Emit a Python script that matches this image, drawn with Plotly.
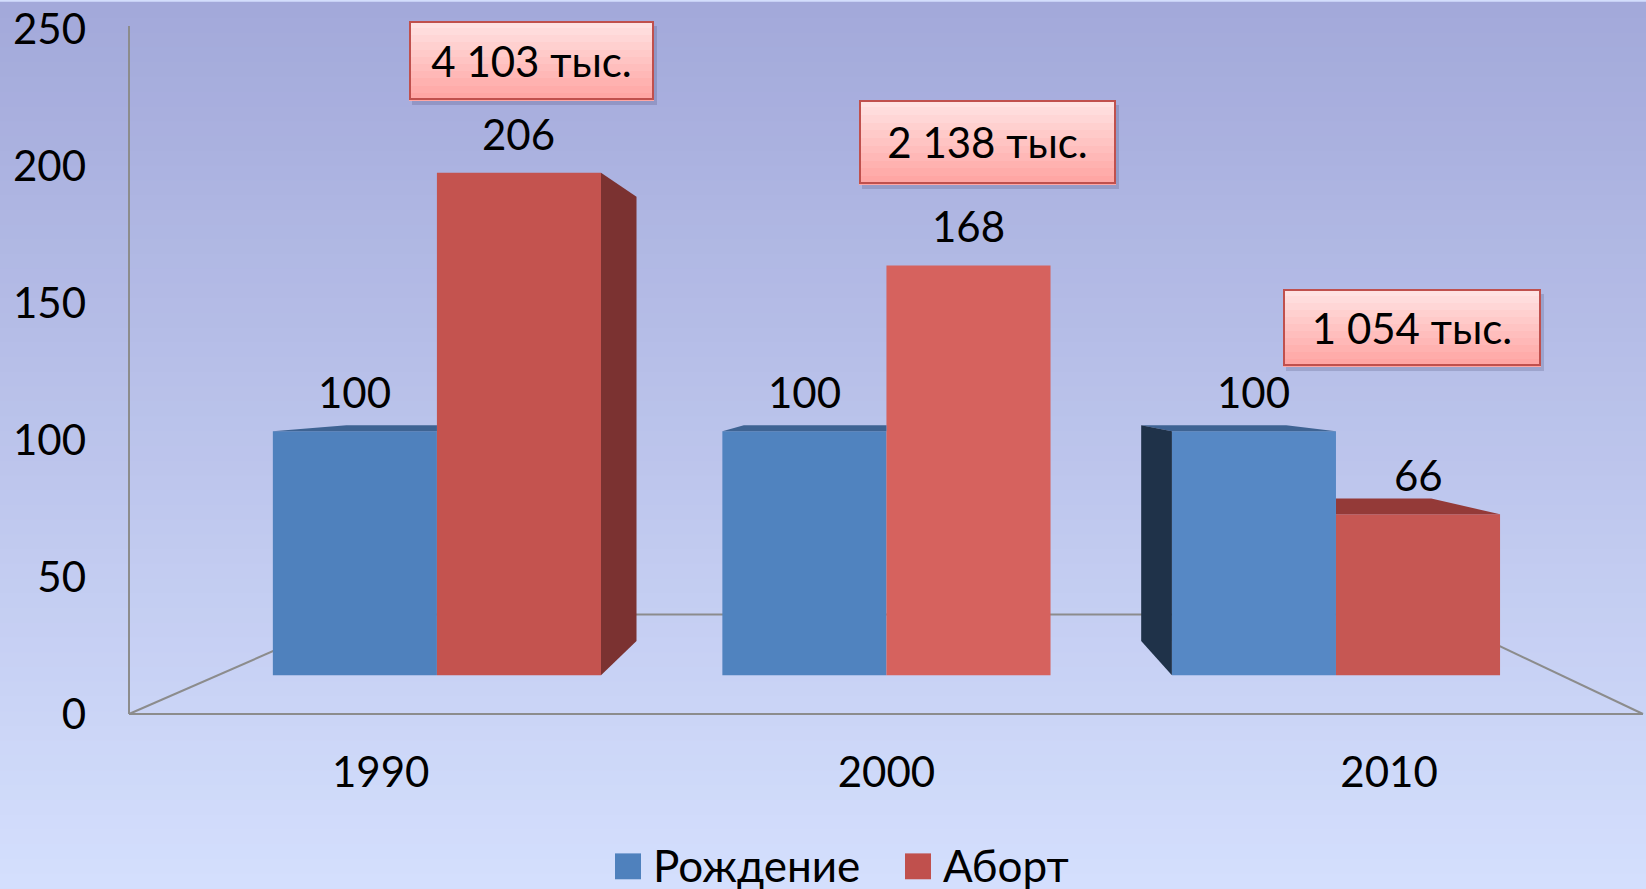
import plotly.graph_objects as go

# ---------------- data ----------------
years = ["1990", "2000", "2010"]
births = [100, 100, 100]          # Рождение (index)
abortions = [206, 168, 66]        # Аборт (index)
abs_labels = ["4 103 тыс.", "2 138 тыс.", "1 054 тыс."]
series_names = ["Рождение", "Аборт"]
y_ticks = [0, 50, 100, 150, 200, 250]

# ---------------- style ----------------
BLUE = "#4F81BD"
RED = "#C0504D"
BLUE_BARS = ["#4F81BD", "#5083BF", "#5688C5"]
RED_BARS = ["#C4534F", "#D6625E", "#C65753"]
SIDE = {"blue": "#1F3249", "red": "#7B3231"}
TOP = {"blue": "#3E6393", "red": "#943A38"}
FONT = "Lato, 'Open Sans', 'DejaVu Sans', sans-serif"
W, H = 1646, 889
ML, MR, MT, MB = 129, 3, 26, 175
PW, PH = W - ML - MR, H - MT - MB

BAR_W = 0.365          # width of one bar in category units (bargap 0.27)
VX, VY, S = 1.046, 121.2, 0.884   # perspective vanishing point (x units, y2 units) and depth scale

xs = list(range(len(years)))

fig = go.Figure()

# background gradient bands (paper coords covering the whole page)
top_c = (163, 169, 218)
bot_c = (212, 223, 253)
nb = 60
y_lo = -MB / PH
y_hi = 1 + MT / PH
x_lo = -ML / PW
x_hi = 1 + MR / PW
shapes = []
for i in range(nb):
    t = i / (nb - 1)
    c = tuple(round(bot_c[k] + (top_c[k] - bot_c[k]) * t) for k in range(3))
    y0 = y_lo + (y_hi - y_lo) * i / nb
    y1 = y_lo + (y_hi - y_lo) * (i + 1) / nb + 0.002
    shapes.append(dict(type="rect", xref="paper", yref="paper", x0=x_lo, x1=x_hi,
                       y0=y0, y1=y1, fillcolor="rgb(%d,%d,%d)" % c,
                       line=dict(width=0), layer="below"))


def px2paper(xp, yp):
    return (xp - ML) / PW, (H - MB - yp) / PH


# perspective floor + vertical axis line
GRAY = "#8C8C8C"
floor_pts = [((129, 714), (1643, 714)),
             ((129, 714), (357, 614)),
             ((357, 614), (1433, 614)),
             ((1433, 614), (1643, 714)),
             ((129, 714), (129, 23))]
for (a, b) in floor_pts:
    ax0, ay0 = px2paper(*a)
    ax1, ay1 = px2paper(*b)
    shapes.append(dict(type="line", xref="paper", yref="paper", x0=ax0, y0=ay0,
                       x1=ax1, y1=ay1, line=dict(color=GRAY, width=2), layer="below"))

# front faces of the bars (on hidden perspective axis y2)
fig.add_trace(go.Bar(x=xs, y=births, name=series_names[0],
                     marker=dict(color=BLUE_BARS, line=dict(width=0)), yaxis="y2"))
fig.add_trace(go.Bar(x=xs, y=abortions, name=series_names[1],
                     marker=dict(color=RED_BARS, line=dict(width=0)), yaxis="y2"))


# ---- pseudo-3D side / top faces derived from the bar values ----
def back(p):
    return (VX + S * (p[0] - VX), VY + S * (p[1] - VY))


def clip(poly, axis, val, keep_ge):
    out = []
    n = len(poly)
    for k in range(n):
        a, b = poly[k], poly[(k + 1) % n]
        ina = (a[axis] >= val) if keep_ge else (a[axis] <= val)
        inb = (b[axis] >= val) if keep_ge else (b[axis] <= val)
        if ina:
            out.append(a)
        if ina != inb:
            t = (val - a[axis]) / (b[axis] - a[axis])
            out.append((a[0] + t * (b[0] - a[0]), a[1] + t * (b[1] - a[1])))
    return out


def add_poly(poly, color):
    if len(poly) < 3:
        return
    px = [p[0] for p in poly] + [poly[0][0]]
    py = [p[1] for p in poly] + [poly[0][1]]
    fig.add_trace(go.Scatter(x=px, y=py, yaxis="y2", mode="lines", fill="toself",
                             fillcolor=color, line=dict(width=0), hoverinfo="skip",
                             showlegend=False))


for i in xs:
    group = [("blue", births[i], i - BAR_W, i), ("red", abortions[i], i, i + BAR_W)]
    for j, (key, v, x0, x1) in enumerate(group):
        left_n = group[j - 1][1] if j > 0 else None
        right_n = group[j + 1][1] if j < len(group) - 1 else None
        # top face
        if v < VY:
            poly = [(x0, v), (x1, v), back((x1, v)), back((x0, v))]
            if right_n is not None and right_n >= v:
                poly = clip(poly, 0, x1, False)
            if left_n is not None and left_n >= v:
                poly = clip(poly, 0, x0, True)
            add_poly(poly, TOP[key])
        # right face
        if x1 < VX:
            poly = [(x1, v), back((x1, v)), back((x1, 0)), (x1, 0)]
            if right_n is not None:
                poly = clip(poly, 1, right_n, True) if right_n < v else []
            add_poly(poly, SIDE[key])
        # left face
        if x0 > VX:
            poly = [(x0, v), back((x0, v)), back((x0, 0)), (x0, 0)]
            if left_n is not None:
                poly = clip(poly, 1, left_n, True) if left_n < v else []
            add_poly(poly, SIDE[key])

annotations = []
# value labels
off = BAR_W / 2
for i in xs:
    for dx, v in ((-off, births[i]), (off, abortions[i])):
        annotations.append(dict(x=i + dx, y=v, xref="x", yref="y2", text=str(v),
                                showarrow=False, yanchor="middle", yshift=39,
                                font=dict(family=FONT, size=42, color="#000")))

# callout boxes with absolute numbers (vertical pink gradient)
box_pos = [(0.21, 238.4), (1.225, 208.6), (2.17, 141.0)]
box_size = [(245, 79), (257, 84), (258, 77)]
g_top = (255, 226, 226)
g_bot = (255, 166, 164)
ng = 11
for (bx, by), (BW, BH), txt in zip(box_pos, box_size, abs_labels):
    annotations.append(dict(x=bx, y=by, xref="x", yref="y", text="", showarrow=False,
                            width=BW, height=BH, bgcolor="rgba(70,70,110,0.22)",
                            xshift=3, yshift=-5, borderwidth=0, borderpad=0))
    for k in range(ng):
        t = k / (ng - 1)
        c = tuple(round(g_top[m] + (g_bot[m] - g_top[m]) * t) for m in range(3))
        sh = BH / ng
        annotations.append(dict(x=bx, y=by, xref="x", yref="y", text="", showarrow=False,
                                width=BW, height=sh + 1, bgcolor="rgb(%d,%d,%d)" % c,
                                borderwidth=0, borderpad=0,
                                yshift=BH / 2 - sh / 2 - k * sh))
    annotations.append(dict(x=bx, y=by, xref="x", yref="y", text=txt, showarrow=False,
                            width=BW - 4, height=BH - 4, bgcolor="rgba(0,0,0,0)",
                            bordercolor=RED, borderwidth=2, borderpad=0,
                            align="center", valign="middle",
                            font=dict(family=FONT, size=42, color="#000")))

# custom legend
leg = [(615, BLUE, series_names[0]), (905, RED, series_names[1])]
for xp, col, name in leg:
    sx0, sy0 = px2paper(xp, 880)
    sx1, sy1 = px2paper(xp + 26, 854)
    shapes.append(dict(type="rect", xref="paper", yref="paper", x0=sx0, x1=sx1, y0=sy0, y1=sy1,
                       fillcolor=col, line=dict(width=0)))
    tx, ty = px2paper(xp + 36, 866)
    annotations.append(dict(x=tx, y=ty, xref="paper", yref="paper", text=name, showarrow=False,
                            xanchor="left", yanchor="middle",
                            font=dict(family=FONT, size=44, color="#000")))

fig.update_layout(
    width=W, height=H,
    margin=dict(l=ML, r=MR, t=MT, b=MB),
    paper_bgcolor="#D3DEFC",
    plot_bgcolor="rgba(0,0,0,0)",
    barmode="group", bargap=0.27, bargroupgap=0,
    showlegend=False,
    shapes=shapes,
    annotations=annotations,
    xaxis=dict(range=[-0.685, 2.683], tickvals=[-0.125, 1.0, 2.118], ticktext=years,
               showgrid=False, zeroline=False, showline=False, ticks="",
               tickfont=dict(family=FONT, size=42, color="#000"), ticklabelstandoff=30,
               ticklabeloverflow="allow"),
    yaxis=dict(range=[0, 250], tickvals=y_ticks, showgrid=False, zeroline=False,
               showline=False, ticks="", tickfont=dict(family=FONT, size=42, color="#000"),
               ticklabelstandoff=42, ticklabeloverflow="allow"),
    yaxis2=dict(range=[-15.9, 264.9], overlaying="y", visible=False),
)

fig.write_html("out.html", config={"displayModeBar": False},
               post_script="document.body.style.margin='0';document.body.style.overflow='hidden';")
